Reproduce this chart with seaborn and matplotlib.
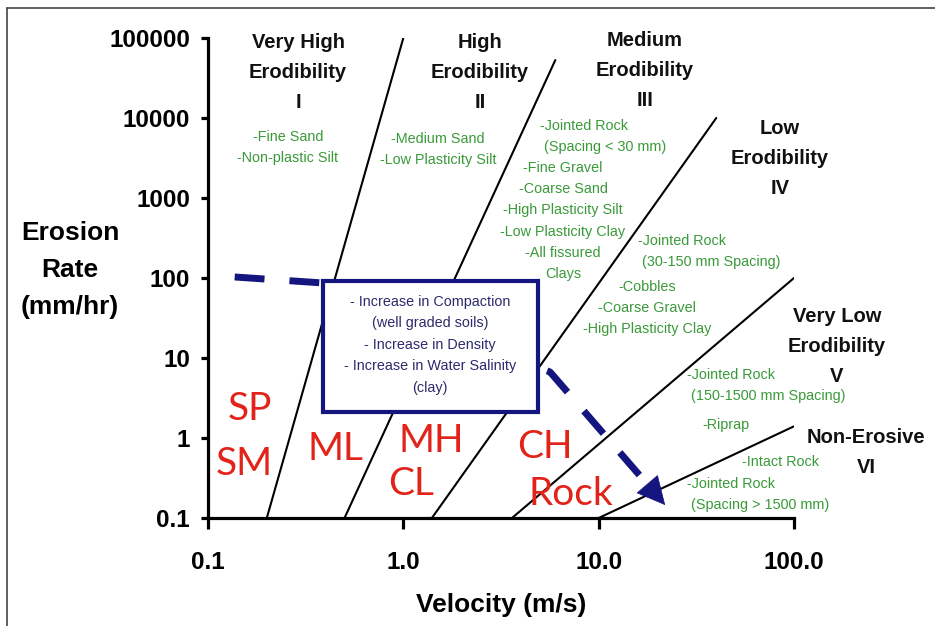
import numpy as np
import pandas as pd
import matplotlib
matplotlib.use("Agg")
import matplotlib.pyplot as plt
import seaborn as sns
from matplotlib import font_manager
from matplotlib.lines import Line2D
from matplotlib.ticker import NullLocator

# ---------------- data ----------------
boundary_names = ["I/II", "II/III", "III/IV", "IV/V", "V/VI"]
boundary_v_start = [0.2, 0.5, 1.4, 3.6, 10.0]      # velocity at 0.1 mm/hr
boundary_rate_start = [0.1, 0.1, 0.1, 0.1, 0.1]
boundary_v_end = [1.0, 6.0, 40.0, 100.0, 100.0]
boundary_rate_end = [100000, 53000, 10000, 100, 1.4]

arrow_velocity = [0.137, 0.388, 5.64, 17.9]
arrow_rate = [103, 86.6, 6.68, 0.258]
arrow_tip = (21.9, 0.145)

x_ticks = [0.1, 1.0, 10.0, 100.0]
x_tick_labels = ["0.1", "1.0", "10.0", "100.0"]
y_ticks = [0.1, 1, 10, 100, 1000, 10000, 100000]
y_tick_labels = ["0.1", "1", "10", "100", "1000", "10000", "100000"]

category_titles = ["Very High\nErodibility\nI", "High\nErodibility\nII",
                   "Medium\nErodibility\nIII", "Low\nErodibility\nIV",
                   "Very Low\nErodibility\nV", "Non-Erosive\nVI"]

box_text = ("- Increase in Compaction\n(well graded soils)\n- Increase in Density\n"
            "- Increase in Water Salinity\n(clay)")

# ---------------- style ----------------
sns.set_theme(style="ticks")
plt.rcParams["font.family"] = ["Liberation Sans", "DejaVu Sans"]
plt.rcParams["text.color"] = "black"

names = {f.name for f in font_manager.fontManager.ttflist}
if "Liberation Sans Narrow" in names:
    small_family, small_size, small_ls = ["Liberation Sans Narrow", "Liberation Sans"], 12.3, 1.45
else:
    small_family, small_size, small_ls = ["Liberation Sans", "DejaVu Sans"], 10.4, 1.63
red_family = ["Lato", "Open Sans", "DejaVu Sans"]

NAVY = "#15157f"
BOXTXT = "#2b2b6e"
GREEN = "#3a9a3a"
RED = "#e2231a"

W_PX, H_PX = 935, 626
AX_L, AX_R, AX_T, AX_B = 208, 794, 38, 518

fig = plt.figure(figsize=(W_PX / 100, H_PX / 100), dpi=100)
fig.patch.set_facecolor("white")
ax = fig.add_axes([AX_L / W_PX, 1 - AX_B / H_PX, (AX_R - AX_L) / W_PX, (AX_B - AX_T) / H_PX])
ax.set_facecolor("white")


def P(px, py):
    return ((px - AX_L) / (AX_R - AX_L), (AX_B - py) / (AX_B - AX_T))


# ---------------- boundary lines ----------------
rows = []
for n, v0, r0, v1, r1 in zip(boundary_names, boundary_v_start, boundary_rate_start,
                             boundary_v_end, boundary_rate_end):
    rows.append({"boundary": n, "velocity": v0, "rate": r0})
    rows.append({"boundary": n, "velocity": v1, "rate": r1})
df = pd.DataFrame(rows)

ax.set_xscale("log")
ax.set_yscale("log")
sns.lineplot(data=df, x="velocity", y="rate", units="boundary", estimator=None,
             color="black", lw=1.5, ax=ax, legend=False, zorder=2)

# ---------------- dashed arrow ----------------
arrow_df = pd.DataFrame({"velocity": arrow_velocity, "rate": arrow_rate})
sns.lineplot(data=arrow_df, x="velocity", y="rate", sort=False, estimator=None,
             color=NAVY, lw=5, dashes=False, ax=ax, zorder=3)
ax.lines[-1].set_dashes((4.3, 3.6))
ax.lines[-1].set_dash_capstyle("butt")
ax.annotate("", xy=arrow_tip, xytext=(arrow_velocity[-1], arrow_rate[-1]),
            arrowprops=dict(arrowstyle="-|>,head_length=0.8,head_width=0.4",
                            mutation_scale=24, color=NAVY, lw=0.5,
                            shrinkA=0, shrinkB=0), zorder=3)

# ---------------- axes ----------------
ax.set_xlim(0.1, 100)
ax.set_ylim(0.1, 100000)
ax.set_xticks(x_ticks)
ax.set_xticklabels(x_tick_labels, fontweight="bold", fontsize=17.5)
ax.set_yticks(y_ticks)
ax.set_yticklabels(y_tick_labels, fontweight="bold", fontsize=17.5)
ax.xaxis.set_minor_locator(NullLocator())
ax.yaxis.set_minor_locator(NullLocator())
ax.tick_params(axis="x", length=8, width=2.3, pad=16, colors="black")
ax.tick_params(axis="y", length=5, width=2.3, pad=8, colors="black")
sns.despine(ax=ax)
for s in ("left", "bottom"):
    ax.spines[s].set_linewidth(2.3)
    ax.spines[s].set_color("black")
    ax.spines[s].set_capstyle("projecting")

ax.set_xlabel("Velocity (m/s)", fontsize=19, fontweight="bold", color="black")
ax.xaxis.set_label_coords(0.5, P(0, 593)[1])
ax.set_ylabel("Erosion\nRate\n(mm/hr)", fontsize=19, fontweight="bold", color="black",
              rotation=0, ha="center", va="center", linespacing=1.67)
ax.yaxis.set_label_coords(*P(70, 270))

# ---------------- category titles (one text per line) ----------------
title_pos = [(298, 33), (480, 33), (645, 31), (780, 119), (837, 307), (866, 428)]
TITLE_PITCH = 30
for t, (px, py) in zip(category_titles, title_pos):
    for i, line in enumerate(t.split("\n")):
        ax.text(*P(px, py + i * TITLE_PITCH), line, transform=ax.transAxes,
                ha="center", va="top", fontsize=14.5, fontweight="bold", color="#111111")

# ---------------- green soil descriptions (one text per line) ----------------
green = [
    ("-Fine Sand\n-Non-plastic Silt", 288, 130, "center"),
    ("-Medium Sand\n-Low Plasticity Silt", 438, 132, "center"),
    ("-Jointed Rock\n (Spacing < 30 mm)", 540, 119, "left"),
    ("-Fine Gravel\n-Coarse Sand\n-High Plasticity Silt\n-Low Plasticity Clay\n-All fissured\nClays",
     563, 161, "center"),
    ("-Jointed Rock\n (30-150 mm Spacing)", 638, 234, "left"),
    ("-Cobbles\n-Coarse Gravel\n-High Plasticity Clay", 647, 280, "center"),
    ("-Jointed Rock\n (150-1500 mm Spacing)", 687, 368, "left"),
    ("-Riprap", 726, 418, "center"),
    ("-Intact Rock", 781, 455, "center"),
    ("-Jointed Rock\n (Spacing > 1500 mm)", 687, 477, "left"),
]
GREEN_PITCH = 21.2
for t, px, py, ha in green:
    for i, line in enumerate(t.split("\n")):
        ax.text(*P(px, py + i * GREEN_PITCH), line, transform=ax.transAxes, ha=ha,
                va="top", color=GREEN, family=small_family, fontsize=small_size, zorder=4)

# ---------------- red soil classes ----------------
red = [("SP", 250, 420, "center"), ("SM", 244, 475, "center"), ("ML", 335, 460, "center"),
       ("MH", 398, 452, "left"), ("CL", 388, 495, "left"),
       ("CH", 517, 458, "left"), ("Rock", 528, 505, "left")]
for t, px, py, ha in red:
    ax.text(*P(px, py), t, transform=ax.transAxes, ha=ha, va="baseline", color=RED,
            family=red_family, fontsize=28, zorder=4)

# ---------------- box ----------------
bx0, by0 = P(323, 412)
bx1, by1 = P(538, 281)
ax.add_patch(plt.Rectangle((bx0, by0), bx1 - bx0, by1 - by0, transform=ax.transAxes,
                           facecolor="white", edgecolor=NAVY, lw=3, zorder=5))
ax.text(*P(430, 295), box_text, transform=ax.transAxes, ha="center", va="top",
        color=BOXTXT, family=small_family, fontsize=small_size,
        linespacing=small_ls * 1.03, zorder=6)

# ---------------- figure frame ----------------
fig.add_artist(Line2D([7 / W_PX, 7 / W_PX], [0, 1 - 8 / H_PX], transform=fig.transFigure,
                      color="#444444", lw=1.2))
fig.add_artist(Line2D([7 / W_PX, 1], [1 - 8 / H_PX, 1 - 8 / H_PX], transform=fig.transFigure,
                      color="#444444", lw=1.2))

fig.savefig("out.png", dpi=100, facecolor="white")
